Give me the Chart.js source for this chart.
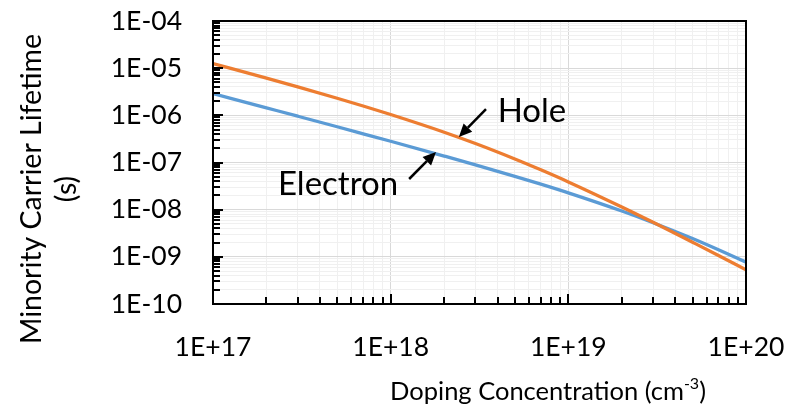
<!DOCTYPE html>
<html>
<head>
<meta charset="utf-8">
<script src="https://cdn.jsdelivr.net/npm/chart.js@4.4.1/dist/chart.umd.min.js"></script>
<style>
  html, body { margin: 0; padding: 0; background: #fff; }
  #wrap { width: 789px; height: 409px; position: relative; }
</style>
</head>
<body>
<div id="wrap"><canvas id="lifetimeChart"></canvas></div>
<script>
// doping concentration (cm^-3) and lifetimes (s)
const dopingConc = [1e17, 2e17, 3e17, 5e17, 7e17, 1e18, 2e18, 3e18, 5e18, 7e18, 1e19, 2e19, 3e19, 5e19, 7e19, 1e20];
const electronLifetime = [2.89e-6, 1.44e-6, 9.58e-7, 5.72e-7, 4.06e-7, 2.82e-7, 1.37e-7, 8.92e-8, 5.10e-8, 3.47e-8, 2.27e-8, 9.35e-9, 5.29e-9, 2.44e-9, 1.41e-9, 7.72e-10];
const holeLifetime = [1.25e-5, 6.13e-6, 4.00e-6, 2.30e-6, 1.58e-6, 1.04e-6, 4.39e-7, 2.53e-7, 1.19e-7, 7.00e-8, 3.88e-8, 1.14e-8, 5.39e-9, 2.04e-9, 1.07e-9, 5.32e-10];

// axis decades and their labels
const xDecades = [1e17, 1e18, 1e19, 1e20];
const xTickLabels = ['1E+17', '1E+18', '1E+19', '1E+20'];
const yDecades = [1e-10, 1e-9, 1e-8, 1e-7, 1e-6, 1e-5, 1e-4];
const yTickLabels = ['1E-10', '1E-09', '1E-08', '1E-07', '1E-06', '1E-05', '1E-04'];

// annotation anchors, in data units
const holeArrow = { from: [3.44e18, 1.36e-6], to: [2.42e18, 3.47e-7] };
const electronArrow = { from: [1.27e18, 4.47e-8], to: [1.80e18, 1.67e-7] };
const holeLabel = { text: 'Hole', at: [4.0e18, 7.23e-7] };
const electronLabel = { text: 'Electron', at: [2.32e17, 2.05e-8] };

const FONT = 'Lato';

// 1..9 per decade, major on the decade
function logTicks(decades) {
    const ticks = [];
    decades.forEach((d, i) => {
        ticks.push({ value: d, major: true });
        if (i < decades.length - 1) {
            for (let m = 2; m <= 9; m++) ticks.push({ value: d * m, major: false });
        }
    });
    return ticks;
}

function drawArrow(ctx, x0, y0, x1, y1) {
    const ang = Math.atan2(y1 - y0, x1 - x0);
    const headLen = 13, headW = 6;
    const bx = x1 - headLen * Math.cos(ang), by = y1 - headLen * Math.sin(ang);
    ctx.beginPath();
    ctx.moveTo(x0, y0);
    ctx.lineTo(bx, by);
    ctx.stroke();
    ctx.beginPath();
    ctx.moveTo(x1, y1);
    ctx.lineTo(bx + headW * Math.sin(ang), by - headW * Math.cos(ang));
    ctx.lineTo(bx - headW * Math.sin(ang), by + headW * Math.cos(ang));
    ctx.closePath();
    ctx.fill();
}

const overlayPlugin = {
    id: 'overlay',
    afterDatasetsDraw(chart) {
        const { ctx, chartArea: a, scales: { x, y } } = chart;
        ctx.save();
        ctx.strokeStyle = '#000';
        ctx.fillStyle = '#000';
        ctx.lineWidth = 2;

        // inside tick marks
        x.ticks.forEach(t => {
            const px = Math.round(x.getPixelForValue(t.value));
            ctx.beginPath();
            ctx.moveTo(px, a.bottom);
            ctx.lineTo(px, a.bottom - (t.major ? 10 : 7));
            ctx.stroke();
        });
        y.ticks.forEach(t => {
            const py = Math.round(y.getPixelForValue(t.value));
            ctx.beginPath();
            ctx.moveTo(a.left, py);
            ctx.lineTo(a.left + (t.major ? 10 : 7), py);
            ctx.stroke();
        });

        // plot area border
        ctx.strokeRect(a.left, a.top, a.right - a.left, a.bottom - a.top);

        // arrows
        ctx.lineWidth = 2.5;
        [holeArrow, electronArrow].forEach(ar => {
            drawArrow(ctx,
                x.getPixelForValue(ar.from[0]), y.getPixelForValue(ar.from[1]),
                x.getPixelForValue(ar.to[0]), y.getPixelForValue(ar.to[1]));
        });

        // series labels
        ctx.font = '33px ' + FONT;
        ctx.textAlign = 'left';
        ctx.textBaseline = 'alphabetic';
        [holeLabel, electronLabel].forEach(l => {
            ctx.fillText(l.text, x.getPixelForValue(l.at[0]), y.getPixelForValue(l.at[1]));
        });
        ctx.restore();
    },
    afterDraw(chart) {
        const { ctx } = chart;
        ctx.save();
        ctx.fillStyle = '#000';

        // y title, two lines, rotated
        ctx.font = '28.5px ' + FONT;
        ctx.textAlign = 'center';
        ctx.textBaseline = 'alphabetic';
        ctx.translate(41, 189);
        ctx.rotate(-Math.PI / 2);
        ctx.fillText('Minority Carrier Lifetime', 0, 0);
        ctx.fillText('(s)', 0, 35);
        ctx.setTransform(1, 0, 0, 1, 0, 0);

        // x title with superscript
        const main = 'Doping Concentration (cm', sup = '-3', tail = ')';
        const big = '25.5px ' + FONT, small = '16px ' + FONT;
        ctx.textAlign = 'left';
        ctx.font = big;
        const wMain = ctx.measureText(main).width;
        const wTail = ctx.measureText(tail).width;
        ctx.font = small;
        const wSup = ctx.measureText(sup).width;
        let cx = 548 - (wMain + wSup + wTail) / 2;
        const base = 400;
        ctx.font = big;
        ctx.fillText(main, cx, base);
        cx += wMain;
        ctx.font = small;
        ctx.fillText(sup, cx, base - 11);
        cx += wSup;
        ctx.font = big;
        ctx.fillText(tail, cx, base);
        ctx.restore();
    }
};

const gridColor = c => (c.tick && c.tick.major ? '#d9d9d9' : '#f0f0f0');

function zeroPadding(s) {
    s.paddingTop = 0;
    s.paddingBottom = 0;
    s.paddingLeft = 0;
    s.paddingRight = 0;
}

new Chart(document.getElementById('lifetimeChart'), {
    type: 'line',
    data: {
        datasets: [
            {
                label: 'Electron',
                data: dopingConc.map((n, i) => ({ x: n, y: electronLifetime[i] })),
                borderColor: '#5B9BD5',
                borderWidth: 3.3,
                pointRadius: 0,
                cubicInterpolationMode: 'monotone',
                order: 2
            },
            {
                label: 'Hole',
                data: dopingConc.map((n, i) => ({ x: n, y: holeLifetime[i] })),
                borderColor: '#ED7D31',
                borderWidth: 3.3,
                pointRadius: 0,
                cubicInterpolationMode: 'monotone',
                order: 1
            }
        ]
    },
    options: {
        responsive: true,
        maintainAspectRatio: false,
        animation: false,
        layout: { padding: { top: 21, right: 43, left: 0, bottom: 0 } },
        plugins: {
            legend: { display: false },
            tooltip: { enabled: false }
        },
        scales: {
            x: {
                type: 'logarithmic',
                min: xDecades[0],
                max: xDecades[xDecades.length - 1],
                afterBuildTicks: s => { s.ticks = logTicks(xDecades); },
                afterFit: s => { s.height = 105; zeroPadding(s); },
                grid: { color: gridColor, lineWidth: 1, drawTicks: false },
                border: { display: false },
                ticks: {
                    autoSkip: false,
                    maxRotation: 0,
                    padding: 28,
                    color: '#000',
                    font: { family: FONT, size: 26.5 },
                    callback: (v, i, ticks) => ticks[i].major ? xTickLabels[xDecades.indexOf(v)] : ''
                }
            },
            y: {
                type: 'logarithmic',
                min: yDecades[0],
                max: yDecades[yDecades.length - 1],
                afterBuildTicks: s => { s.ticks = logTicks(yDecades); },
                afterFit: s => { s.width = 213; zeroPadding(s); },
                grid: { color: gridColor, lineWidth: 1, drawTicks: false },
                border: { display: false },
                ticks: {
                    autoSkip: false,
                    padding: 31,
                    color: '#000',
                    font: { family: FONT, size: 26.5 },
                    callback: (v, i, ticks) => ticks[i].major ? yTickLabels[yDecades.indexOf(v)] : ''
                }
            }
        }
    },
    plugins: [overlayPlugin]
});
</script>
</body>
</html>
